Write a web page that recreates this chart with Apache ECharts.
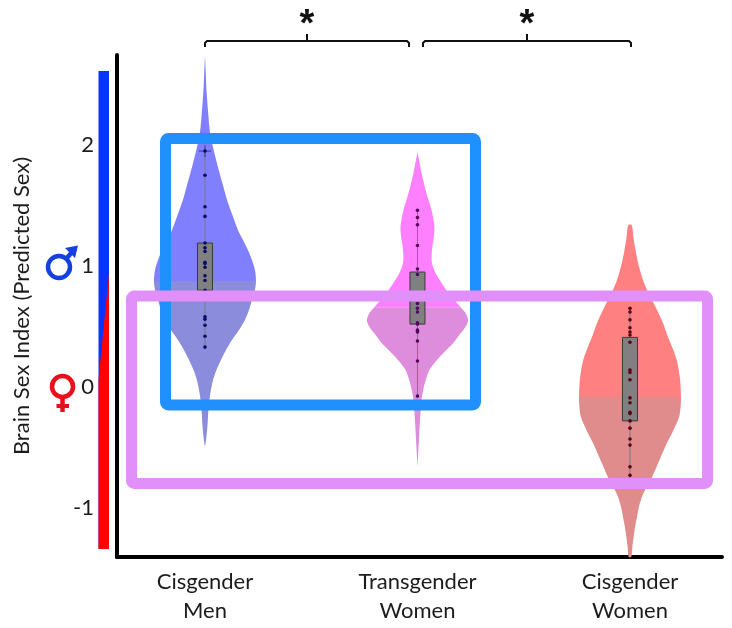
<!DOCTYPE html>
<html><head><meta charset="utf-8">
<style>html,body{margin:0;padding:0;background:#fff}#c{width:732px;height:628px}</style>
<script src="https://cdn.jsdelivr.net/npm/echarts@6/dist/echarts.min.js"></script>
</head><body><div id="c"></div>
<script>
const categories = ['Cisgender\nMen', 'Transgender\nWomen', 'Cisgender\nWomen'];
const yTicks = [2, 1, 0, -1];
const yTitle = 'Brain Sex Index (Predicted Sex)';

// violin outlines: [brain sex index, half width in x-axis units]
const menViolin = [[2.744,0],[2.579,.004],[2.455,.007],[2.289,.014],[2.099,.024],[1.95,.042],[1.851,.056],[1.752,.071],[1.653,.087],[1.545,.104],[1.421,.129],[1.298,.155],[1.215,.179],[1.132,.202],[1.05,.221],[.967,.235],[.876,.24],[.802,.235],[.719,.221],[.636,.207],[.554,.188],[.471,.16],[.388,.127],[.306,.099],[.223,.075],[.14,.054],[.058,.038],[-.066,.024],[-.19,.016],[-.314,.012],[-.479,.002]];
const transViolin = [[1.942,0],[1.86,.009],[1.769,.019],[1.702,.028],[1.628,.038],[1.545,.052],[1.463,.066],[1.388,.075],[1.314,.08],[1.24,.077],[1.174,.071],[1.099,.067],[1.025,.068],[.942,.085],[.86,.113],[.777,.146],[.719,.174],[.661,.202],[.612,.226],[.554,.238],[.512,.231],[.471,.216],[.421,.193],[.364,.169],[.306,.136],[.248,.104],[.198,.08],[.14,.056],[.091,.045],[.033,.035],[-.033,.026],[-.107,.019],[-.273,.012],[-.496,.005],[-.661,0]];
const womenViolin = [[1.339,.008],[1.24,.016],[1.132,.026],[1.05,.035],[.967,.047],[.884,.061],[.802,.08],[.719,.104],[.636,.127],[.529,.155],[.413,.179],[.322,.2],[.223,.22],[.074,.235],[-.083,.24],[-.165,.238],[-.248,.231],[-.355,.205],[-.463,.174],[-.603,.139],[-.744,.104],[-.826,.078],[-.909,.056],[-.992,.042],[-1.074,.033],[-1.157,.024],[-1.24,.017],[-1.322,.011],[-1.405,.006]];
const shadeSplits = [.876, .66, -.083];

// box: [low whisker, q1, q3, high whisker]
const menBox = [.33, .80, 1.19, 1.95];
const transBox = [-.075, .52, .95, 1.46];
const womenBox = [-.73, -.28, .41, .65];

const menDots = [1.95,1.75,1.49,1.41,1.19,1.15,1.12,1.03,1.02,.99,.92,.88,.80,.58,.56,.51,.42,.33];
const transDots = [1.46,1.40,1.34,1.17,.975,.93,.69,.65,.62,.53,.52,.47,.455,.38,.215,-.075];
const womenDots = [.65,.62,.555,.49,.455,.43,.37,.14,.12,.06,-.09,-.13,-.21,-.22,-.28,-.34,-.43,-.48,-.66,-.73];
const outlierCross = 1.95;

const violins = [menViolin, transViolin, womenViolin];
const boxes = [menBox, transBox, womenBox];
const dots = [menDots, transDots, womenDots];
const upperColors = ['#8080ff', '#ff80ff', '#ff8080'];
const lowerColors = ['#8c8cdc', '#de8cdc', '#e08c8c'];
const dotColors = ['#0a0a66', '#55005f', '#5a0012'];
const FONT = 'Lato';

function outline(x, api, pts) {
  const l = pts.map(p => api.coord([x - p[1], p[0]]));
  const r = pts.map(p => api.coord([x + p[1], p[0]])).reverse();
  return l.concat(r);
}
function renderViolin(params, api) {
  const i = params.dataIndex, x = i + 1, v = violins[i];
  const pts = outline(x, api, v);
  const splitY = api.coord([x, shadeSplits[i]])[1];
  const part = (c, y0, y1) => ({
    type:'polygon', shape:{points:pts, smooth:0.3, smoothConstraint:false}, style:{fill:c},
    clipPath:{type:'rect', shape:{x:0, y:y0, width:732, height:y1 - y0}}
  });
  return {type:'group', children:[part(upperColors[i], 0, splitY), part(lowerColors[i], splitY, 628)]};
}
function renderBox(params, api) {
  const i = params.dataIndex, x = i + 1, b = boxes[i], hw = 7.5;
  const c = v => api.coord([x, v]);
  const kids = [
    {type:'line', shape:{x1:c(b[0])[0],y1:c(b[0])[1],x2:c(b[3])[0],y2:c(b[3])[1]}, style:{stroke:'#77778a',lineWidth:1}},
    {type:'rect', shape:{x:c(b[2])[0]-hw,y:c(b[2])[1],width:hw*2,height:c(b[1])[1]-c(b[2])[1]}, style:{fill:'#808080',stroke:'#3a3a3a',lineWidth:1}}
  ];
  if (i === 0) {
    const p = c(outlierCross);
    kids.push({type:'line', shape:{x1:p[0]-6,y1:p[1],x2:p[0]+6,y2:p[1]}, style:{stroke:'#3a3a70',lineWidth:1}});
    kids.push({type:'line', shape:{x1:p[0],y1:p[1]-6,x2:p[0],y2:p[1]+6}, style:{stroke:'#3a3a70',lineWidth:1}});
  }
  return {type:'group', children:kids};
}

const dotSeries = dots.map((d, i) => ({
  type:'scatter', z:5, symbolSize:3.6, silent:true, clip:false,
  itemStyle:{color:dotColors[i], opacity:1},
  data:d.map(v => [i + 1, v])
}));

const frame = (x, y, w, h, stroke) => ({type:'rect', z:50,
  shape:{x, y, width:w, height:h, r:3}, style:{fill:'transparent', stroke, lineWidth:11}});
const bracket = (x1, x2) => ({type:'polyline', z:60,
  shape:{points:[[x1,47],[x1,43],[x1+2,41],[x2-2,41],[x2,43],[x2,47]]}, style:{stroke:'#111',lineWidth:2,fill:'transparent'}});
const tick = xm => ({type:'line', z:60, shape:{x1:xm,y1:34,x2:xm,y2:41}, style:{stroke:'#111',lineWidth:2}});
const star = xm => ({type:'text', z:60, style:{text:'*', x:xm, y:7, fill:'#111', font:'bold 38px "Liberation Sans"', align:'center', verticalAlign:'top'}});
const MALE = '#1440e0', FEMALE = '#e8101a';

const chart = echarts.init(document.getElementById('c'), null, {renderer:'canvas'});
chart.setOption({
  animation:false, backgroundColor:'#fff',
  grid:{left:117, top:55, width:605, height:502, containLabel:false, outerBoundsMode:'none'},
  xAxis:{type:'value', min:0.586, max:3.433, splitLine:{show:false},
    axisLine:{show:true, onZero:false, lineStyle:{color:'#000', width:4}},
    axisTick:{show:false},
    axisLabel:{customValues:[1,2,3], formatter:v => categories[Math.round(v)-1], color:'#1c1c1c',
      fontFamily:FONT, fontSize:22, lineHeight:29, margin:10, showMinLabel:true, showMaxLabel:true}},
  yAxis:{type:'value', min:-1.405, max:2.744, splitLine:{show:false},
    name:yTitle, nameLocation:'middle', nameGap:84, nameRotate:90,
    nameTextStyle:{color:'#1c1c1c', fontFamily:FONT, fontSize:22},
    axisLine:{show:true, onZero:false, lineStyle:{color:'#000', width:4}},
    axisTick:{show:false},
    axisLabel:{customValues:yTicks, color:'#1c1c1c', fontFamily:FONT, fontSize:22, margin:23}},
  series:[
    {type:'custom', z:2, silent:true, clip:false, renderItem:renderViolin, data:[[1],[2],[3]], encode:{x:0}},
    {type:'custom', z:3, silent:true, clip:false, renderItem:renderBox, data:[[1],[2],[3]], encode:{x:0}},
    ...dotSeries
  ],
  graphic:[
    {type:'rect', z:40, shape:{x:98.5,y:71,width:10.5,height:478}, style:{fill:'#0a33ff'}},
    {type:'polygon', z:41, shape:{points:[[109,273],[109,549],[98.5,549],[98.5,380]]}, style:{fill:'#ff0000'}},
    frame(165.5,138.5,310,266.5,'#2090ff'),
    frame(131.5,296,576,187.5,'#e090f8'),
    bracket(205,409), tick(307), star(307),
    bracket(423,631), tick(527), star(527),
    // male symbol
    {type:'circle', z:60, shape:{cx:59,cy:267,r:11}, style:{fill:'transparent',stroke:MALE,lineWidth:4.5}},
    {type:'line', z:60, shape:{x1:66,y1:259,x2:73,y2:251}, style:{stroke:MALE,lineWidth:4.5}},
    {type:'polygon', z:60, shape:{points:[[78,245.5],[65,248],[75,258]]}, style:{fill:MALE}},
    // female symbol
    {type:'circle', z:60, shape:{cx:62.5,cy:386.5,r:10.5}, style:{fill:'transparent',stroke:FEMALE,lineWidth:4.5}},
    {type:'line', z:60, shape:{x1:62.5,y1:398,x2:62.5,y2:412}, style:{stroke:FEMALE,lineWidth:4.5}},
    {type:'line', z:60, shape:{x1:56.5,y1:406,x2:69,y2:406}, style:{stroke:FEMALE,lineWidth:4}}
  ]
});
</script></body></html>
